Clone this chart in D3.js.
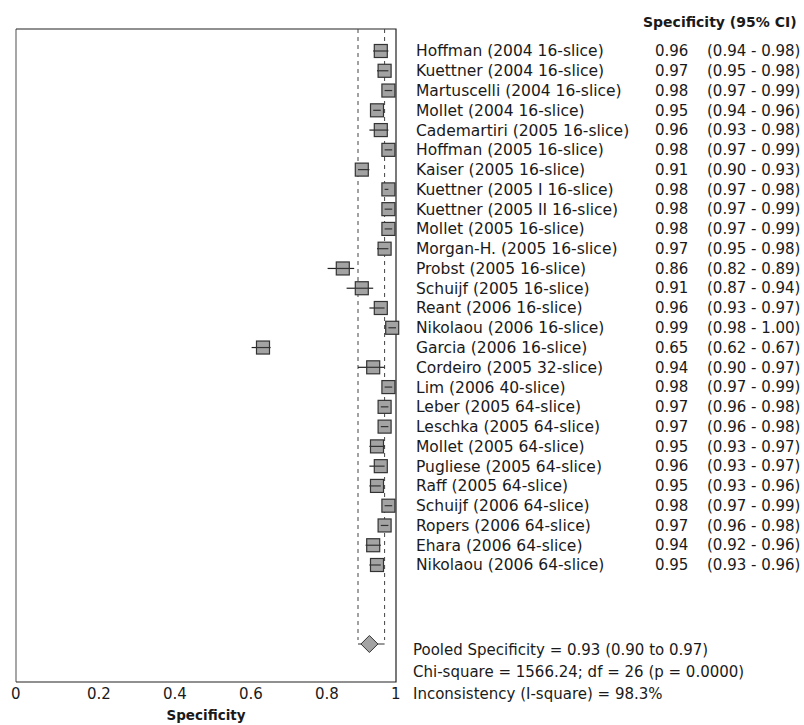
<!DOCTYPE html>
<html>
<head>
<meta charset="utf-8">
<script src="https://cdn.jsdelivr.net/npm/d3@7"></script>
<style>
  body { margin: 0; background: #fff; }
  text { font-family: 'DejaVu Sans', sans-serif; fill: #1a1a1a; }
</style>
</head>
<body>
<svg id="chart"></svg>
<script>
// study data
const studies = [
  'Hoffman (2004 16-slice)', 'Kuettner (2004 16-slice)', 'Martuscelli (2004 16-slice)',
  'Mollet (2004 16-slice)', 'Cademartiri (2005 16-slice)', 'Hoffman (2005 16-slice)',
  'Kaiser (2005 16-slice)', 'Kuettner (2005 I 16-slice)', 'Kuettner (2005 II 16-slice)',
  'Mollet (2005 16-slice)', 'Morgan-H. (2005 16-slice)', 'Probst (2005 16-slice)',
  'Schuijf (2005 16-slice)', 'Reant (2006 16-slice)', 'Nikolaou (2006 16-slice)',
  'Garcia (2006 16-slice)', 'Cordeiro (2005 32-slice)', 'Lim (2006 40-slice)',
  'Leber (2005 64-slice)', 'Leschka (2005 64-slice)', 'Mollet (2005 64-slice)',
  'Pugliese (2005 64-slice)', 'Raff (2005 64-slice)', 'Schuijf (2006 64-slice)',
  'Ropers (2006 64-slice)', 'Ehara (2006 64-slice)', 'Nikolaou (2006 64-slice)'
];
const spec = [0.96, 0.97, 0.98, 0.95, 0.96, 0.98, 0.91, 0.98, 0.98, 0.98, 0.97, 0.86, 0.91, 0.96,
  0.99, 0.65, 0.94, 0.98, 0.97, 0.97, 0.95, 0.96, 0.95, 0.98, 0.97, 0.94, 0.95];
const lower = [0.94, 0.95, 0.97, 0.94, 0.93, 0.97, 0.90, 0.97, 0.97, 0.97, 0.95, 0.82, 0.87, 0.93,
  0.98, 0.62, 0.90, 0.97, 0.96, 0.96, 0.93, 0.93, 0.93, 0.97, 0.96, 0.92, 0.93];
const upper = [0.98, 0.98, 0.99, 0.96, 0.98, 0.99, 0.93, 0.98, 0.99, 0.99, 0.98, 0.89, 0.94, 0.97,
  1.00, 0.67, 0.97, 0.99, 0.98, 0.98, 0.97, 0.97, 0.96, 0.99, 0.98, 0.96, 0.96];
const pooled = [0.93, 0.90, 0.97];
const summaryLines = [
  'Pooled Specificity = 0.93 (0.90 to 0.97)',
  'Chi-square = 1566.24; df = 26 (p = 0.0000)',
  'Inconsistency (I-square) = 98.3%'
];
const xTicks = [0, 0.2, 0.4, 0.6, 0.8, 1];

let width = 804;
let height = 725;

const svg = d3.select('#chart').attr('width', width).attr('height', height);

let x = d3.scaleLinear().domain([0, 1]).range([16, 396]);
let y = d3.scaleLinear().domain([0, studies.length - 1]).range([51, 565]);
let plotTop = 29, plotBottom = 682, pooledY = 644;

// frame
svg.append('line').attr('x1', x(0)).attr('x2', x(0)).attr('y1', plotTop).attr('y2', plotBottom)
  .attr('stroke', '#777').attr('stroke-width', 1.3);
svg.append('path')
  .attr('d', `M${x(0)},${plotTop}H${x(1)}V${plotBottom}H${x(0)}`)
  .attr('fill', 'none').attr('stroke', '#222').attr('stroke-width', 1.2);

// pooled CI dashed lines
svg.selectAll('line.ci')
  .data([pooled[1], pooled[2]])
  .join('line')
  .attr('class', 'ci')
  .attr('x1', d => x(d)).attr('x2', d => x(d))
  .attr('y1', plotTop).attr('y2', pooledY - 4)
  .attr('stroke', '#444').attr('stroke-width', 1).attr('stroke-dasharray', '4,4');

const rows = studies.map((s, i) => ({ name: s, est: spec[i], lo: lower[i], hi: upper[i], i }));

const g = svg.append('g');
g.selectAll('line.err')
  .data(rows)
  .join('line')
  .attr('class', 'err')
  .attr('x1', d => x(d.lo)).attr('x2', d => x(d.hi))
  .attr('y1', d => y(d.i)).attr('y2', d => y(d.i))
  .attr('stroke', '#222').attr('stroke-width', 1.2);

g.selectAll('rect')
  .data(rows)
  .join('rect')
  .attr('x', d => x(d.est) - 6.5).attr('y', d => y(d.i) - 6.5)
  .attr('width', 13).attr('height', 13)
  .attr('fill', '#a3a3a3').attr('stroke', '#333').attr('stroke-width', 1.2);

g.selectAll('line.mid')
  .data(rows)
  .join('line')
  .attr('class', 'mid')
  .attr('x1', d => Math.max(x(d.lo), x(d.est) - 6.5)).attr('x2', d => Math.min(x(d.hi), x(d.est) + 6.5))
  .attr('y1', d => y(d.i)).attr('y2', d => y(d.i))
  .attr('stroke', '#333').attr('stroke-width', 1.2);

// pooled diamond
svg.append('line')
  .attr('x1', x(pooled[1])).attr('x2', x(pooled[2]))
  .attr('y1', pooledY).attr('y2', pooledY)
  .attr('stroke', '#333').attr('stroke-width', 1);
svg.append('path')
  .attr('d', `M${x(pooled[0]) - 8.5},${pooledY}L${x(pooled[0])},${pooledY - 8.5}L${x(pooled[0]) + 8.5},${pooledY}L${x(pooled[0])},${pooledY + 8.5}Z`)
  .attr('fill', '#a3a3a3').attr('stroke', '#333').attr('stroke-width', 1);

// axis
svg.selectAll('text.tick')
  .data(xTicks)
  .join('text')
  .attr('class', 'tick')
  .attr('x', d => x(d) - 5)
  .attr('y', 694)
  .attr('dy', '0.35em')
  .attr('font-size', 15)
  .text(d => d3.format('')(d));

svg.append('text')
  .attr('x', (x(0) + x(1)) / 2).attr('y', 715).attr('dy', '0.35em')
  .attr('text-anchor', 'middle').attr('font-size', 13.5).attr('font-weight', 'bold')
  .text('Specificity');

// table on the right
svg.append('text')
  .attr('x', 643).attr('y', 22).attr('dy', '0.35em')
  .attr('font-size', 14).attr('font-weight', 'bold')
  .text('Specificity (95% CI)');

const tbl = svg.append('g').attr('font-size', 15);
tbl.selectAll('text.name').data(rows).join('text').attr('class', 'name')
  .attr('x', 416).attr('y', d => y(d.i)).attr('dy', '0.35em')
  .attr('font-size', 15.5).text(d => d.name);
tbl.selectAll('text.val').data(rows).join('text').attr('class', 'val')
  .attr('x', 655).attr('y', d => y(d.i)).attr('dy', '0.35em').text(d => d.est.toFixed(2));
tbl.selectAll('text.int').data(rows).join('text').attr('class', 'int')
  .attr('x', 707).attr('y', d => y(d.i)).attr('dy', '0.35em')
  .text(d => `(${d.lo.toFixed(2)} - ${d.hi.toFixed(2)})`);

svg.append('g').attr('font-size', 15)
  .selectAll('text').data(summaryLines).join('text')
  .attr('x', 413).attr('y', (d, i) => 650 + i * 22).attr('dy', '0.35em')
  .text(d => d);
</script>
</body>
</html>
